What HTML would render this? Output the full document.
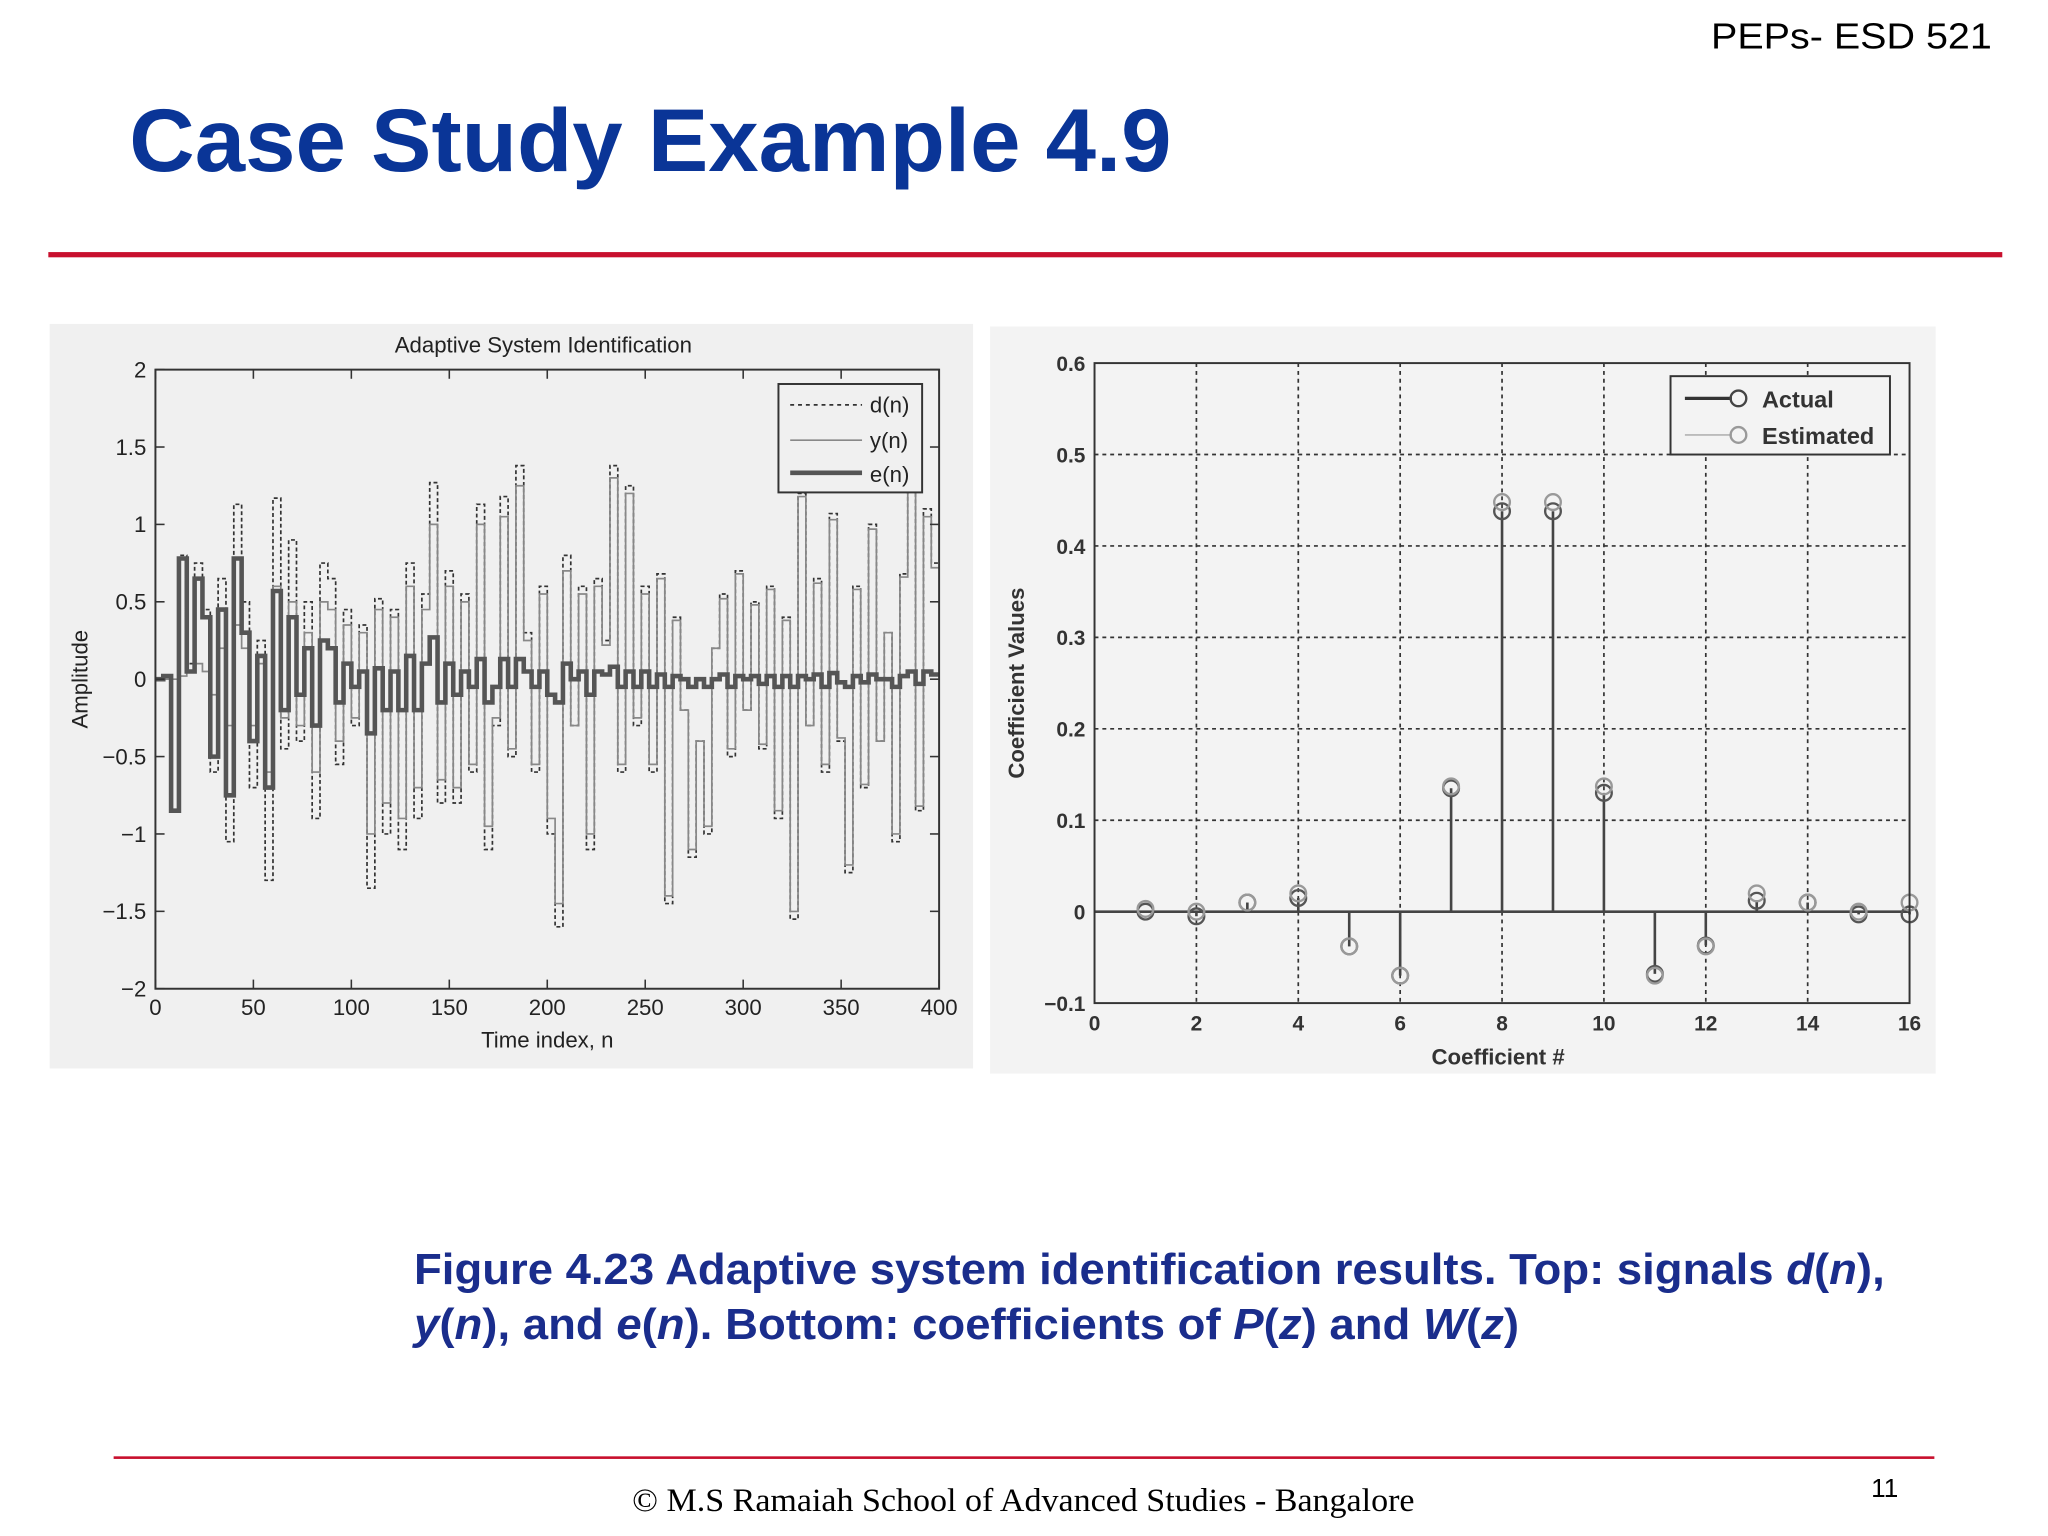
<!DOCTYPE html>
<html><head><meta charset="utf-8"><style>
html,body{margin:0;padding:0;background:#fff;width:2048px;height:1536px;overflow:hidden}
svg{display:block}
text{font-family:"Liberation Sans",sans-serif}
</style></head><body>
<svg id="page" width="2048" height="1536" viewBox="0 0 1568 1176" xmlns="http://www.w3.org/2000/svg">
<rect width="1568" height="1176" fill="#fff"/>
<text x="1525" y="37" font-size="28" text-anchor="end" textLength="215" lengthAdjust="spacingAndGlyphs" fill="#000">PEPs- ESD 521</text>
<text x="99" y="131" font-size="68" font-weight="bold" textLength="798" lengthAdjust="spacingAndGlyphs" fill="#0a3597">Case Study Example 4.9</text>
<rect x="37" y="193" width="1496" height="4" fill="#c8102e"/>

<g id="left">
<rect x="38" y="248" width="707" height="570" fill="#f0f0f0"/>
<text x="416" y="270" font-size="17" text-anchor="middle" fill="#222">Adaptive System Identification</text>
<g id="lgrid"></g>
<g id="lseries"></g>
<rect x="119" y="283" width="600" height="474" fill="none" stroke="#333" stroke-width="1.5"/>
<g id="lticks"></g>
<text x="419" y="802" font-size="17" text-anchor="middle" fill="#222">Time index, n</text>
<text transform="translate(67,520) rotate(-90)" font-size="17" text-anchor="middle" fill="#222">Amplitude</text>
<g>
<rect x="596" y="294" width="110" height="83" fill="#f0f0f0" stroke="#333" stroke-width="1.5"/>
<line x1="605" y1="310" x2="660" y2="310" stroke="#333" stroke-width="1.3" stroke-dasharray="3,3"/>
<text x="666" y="316" font-size="17" fill="#222">d(n)</text>
<line x1="605" y1="337" x2="660" y2="337" stroke="#888" stroke-width="1.3"/>
<text x="666" y="343" font-size="17" fill="#222">y(n)</text>
<line x1="605" y1="362" x2="660" y2="362" stroke="#555" stroke-width="3.5"/>
<text x="666" y="369" font-size="17" fill="#222">e(n)</text>
</g>
</g>

<g id="right">
<rect x="758" y="250" width="724" height="572" fill="#f3f3f3"/>
<g id="rgrid"></g>
<g id="rseries"></g>
<rect x="838" y="278" width="624" height="490" fill="none" stroke="#333" stroke-width="1.5"/>
<g id="rticks"></g>
<text x="1147" y="815" font-size="17" font-weight="bold" text-anchor="middle" fill="#333">Coefficient #</text>
<text transform="translate(784,523) rotate(-90)" font-size="17" font-weight="bold" text-anchor="middle" fill="#333">Coefficient Values</text>
<g>
<rect x="1279" y="288" width="168" height="60" fill="#f3f3f3" stroke="#333" stroke-width="1.5"/>
<line x1="1290" y1="305" x2="1326" y2="305" stroke="#333" stroke-width="2.5"/>
<circle cx="1331" cy="305" r="6" fill="none" stroke="#444" stroke-width="1.8"/>
<text x="1349" y="312" font-size="18" font-weight="bold" fill="#333">Actual</text>
<line x1="1290" y1="333" x2="1326" y2="333" stroke="#bbb" stroke-width="1.5"/>
<circle cx="1331" cy="333" r="6" fill="none" stroke="#999" stroke-width="1.8"/>
<text x="1349" y="340" font-size="18" font-weight="bold" fill="#333">Estimated</text>
</g>
</g>

<text x="317" y="983" font-size="33" font-weight="bold" textLength="1126" lengthAdjust="spacingAndGlyphs" fill="#1a2d8c">Figure 4.23 Adaptive system identification results. Top: signals <tspan font-style="italic">d</tspan>(<tspan font-style="italic">n</tspan>),</text>
<text x="317" y="1025" font-size="33" font-weight="bold" textLength="846" lengthAdjust="spacingAndGlyphs" fill="#1a2d8c"><tspan font-style="italic">y</tspan>(<tspan font-style="italic">n</tspan>), and <tspan font-style="italic">e</tspan>(<tspan font-style="italic">n</tspan>). Bottom: coefficients of <tspan font-style="italic">P</tspan>(<tspan font-style="italic">z</tspan>) and <tspan font-style="italic">W</tspan>(<tspan font-style="italic">z</tspan>)</text>
<rect x="87" y="1115" width="1394" height="2" fill="#c8102e"/>
<text x="484" y="1157" font-size="25" textLength="599" lengthAdjust="spacingAndGlyphs" fill="#000" style="font-family:'Liberation Serif',serif">© M.S Ramaiah School of Advanced Studies - Bangalore</text>
<text x="1443" y="1146" font-size="20" text-anchor="middle" fill="#000">11</text>
</svg>
<script>
const lxTicks=[0,50,100,150,200,250,300,350,400];
const lyTicks=[2,1.5,1,0.5,0,-0.5,-1,-1.5,-2];
const lyLabels=["2","1.5","1","0.5","0","\u22120.5","\u22121","\u22121.5","\u22122"];
const sampleStep=4;
const dSeries=[0,0.02,-0.85,0.8,0.1,0.75,0.45,-0.6,0.65,-1.05,1.13,0.5,-0.7,0.25,-1.3,1.17,-0.45,0.9,-0.4,0.5,
-0.9,0.75,0.65,-0.55,0.45,-0.3,0.35,-1.35,0.52,-1.0,0.45,-1.1,0.75,-0.9,0.55,1.27,-0.8,0.7,-0.8,0.55,
-0.6,1.13,-1.1,-0.3,1.18,-0.5,1.38,0.3,-0.6,0.6,-1.0,-1.6,0.8,-0.3,0.6,-1.1,0.65,0.25,1.38,-0.6,
1.25,-0.3,0.6,-0.6,0.68,-1.45,0.4,-0.2,-1.15,-0.4,-1.0,0.2,0.55,-0.5,0.7,-0.2,0.5,-0.45,0.6,-0.9,
0.4,-1.55,1.2,-0.3,0.65,-0.6,1.07,-0.4,-1.25,0.6,-0.7,1.0,-0.4,0.3,-1.05,0.68,1.3,-0.85,1.1,0.75];
const ySeries=[0,0,0,0.02,0.05,0.1,0.05,-0.1,0.2,-0.3,0.35,0.2,-0.3,0.1,-0.6,0.6,-0.25,0.5,-0.3,0.3,
-0.6,0.5,0.45,-0.4,0.35,-0.25,0.3,-1.0,0.45,-0.8,0.4,-0.9,0.6,-0.7,0.45,1.0,-0.65,0.6,-0.7,0.5,
-0.55,1.0,-0.95,-0.25,1.05,-0.45,1.25,0.25,-0.55,0.55,-0.9,-1.45,0.7,-0.3,0.55,-1.0,0.6,0.22,1.3,-0.55,
1.2,-0.25,0.55,-0.55,0.65,-1.4,0.38,-0.2,-1.1,-0.4,-0.95,0.2,0.52,-0.45,0.68,-0.2,0.48,-0.42,0.58,-0.85,
0.38,-1.5,1.18,-0.3,0.62,-0.55,1.03,-0.38,-1.2,0.58,-0.68,0.97,-0.4,0.3,-1.0,0.66,1.25,-0.82,1.05,0.72];
const eSeries=[0,0.02,-0.85,0.78,0.05,0.65,0.4,-0.5,0.45,-0.75,0.78,0.3,-0.4,0.15,-0.7,0.57,-0.2,0.4,-0.1,0.2,
-0.3,0.25,0.2,-0.15,0.1,-0.05,0.05,-0.35,0.07,-0.2,0.05,-0.2,0.15,-0.2,0.1,0.27,-0.15,0.1,-0.1,0.05,
-0.05,0.13,-0.15,-0.05,0.13,-0.05,0.13,0.05,-0.05,0.05,-0.1,-0.15,0.1,0,0.05,-0.1,0.05,0.03,0.08,-0.05,
0.05,-0.05,0.05,-0.05,0.03,-0.05,0.02,0,-0.05,0,-0.05,0,0.03,-0.05,0.02,0,0.02,-0.03,0.02,-0.05,
0.02,-0.05,0.02,0,0.03,-0.05,0.04,-0.02,-0.05,0.02,-0.02,0.03,0,0,-0.05,0.02,0.05,-0.03,0.05,0.03];

const coefIndex=[1,2,3,4,5,6,7,8,9,10,11,12,13,14,15,16];
const actualCoefs=[0,-0.005,0.01,0.015,-0.038,-0.07,0.135,0.438,0.438,0.13,-0.068,-0.037,0.012,0.01,-0.003,-0.003];
const estimatedCoefs=[0.003,0,0.01,0.02,-0.038,-0.07,0.137,0.448,0.448,0.137,-0.07,-0.038,0.02,0.01,0,0.01];
const rxTicks=[0,2,4,6,8,10,12,14,16];
const ryTicks=[0.6,0.5,0.4,0.3,0.2,0.1,0,-0.1];
const ryLabels=["0.6","0.5","0.4","0.3","0.2","0.1","0","\u22120.1"];

const NS="http://www.w3.org/2000/svg";
function mk(tag,attrs,parent){const el=document.createElementNS(NS,tag);for(const k in attrs)el.setAttribute(k,attrs[k]);parent.appendChild(el);return el;}
const lx=v=>119+(v/400)*600, ly=v=>520-(v/2)*237;
const rx=v=>838+(v/16)*624, ry=v=>698-(v/0.1)*70;

const lt=document.getElementById('lticks');
lxTicks.forEach(t=>{
 mk('line',{x1:lx(t),y1:757,x2:lx(t),y2:750,stroke:'#333','stroke-width':1.2},lt);
 mk('line',{x1:lx(t),y1:283,x2:lx(t),y2:290,stroke:'#333','stroke-width':1.2},lt);
 const tx=mk('text',{x:lx(t),y:777,'font-size':17,'text-anchor':'middle',fill:'#222'},lt);tx.textContent=t;
 
 
});
lyTicks.forEach((t,i)=>{
 mk('line',{x1:119,y1:ly(t),x2:126,y2:ly(t),stroke:'#333','stroke-width':1.2},lt);
 mk('line',{x1:719,y1:ly(t),x2:712,y2:ly(t),stroke:'#333','stroke-width':1.2},lt);
 const tx=mk('text',{x:112,y:ly(t)+6,'font-size':17,'text-anchor':'end',fill:'#222'},lt);tx.textContent=lyLabels[i];
 
 
});
function stairs(arr){let p='';arr.forEach((v,i)=>{const x0=lx(i*sampleStep),x1=lx(Math.min((i+1)*sampleStep,400));p+=(i?'L':'M')+x0.toFixed(1)+','+ly(v).toFixed(1)+'L'+x1.toFixed(1)+','+ly(v).toFixed(1);});return p;}
const ls=document.getElementById('lseries');
const pd=mk('path',{d:stairs(dSeries),fill:'none',stroke:'#333','stroke-width':1.3,'stroke-dasharray':'3,2'},ls);


const py=mk('path',{d:stairs(ySeries),fill:'none',stroke:'#888','stroke-width':1.3},ls);


const pe=mk('path',{d:stairs(eSeries),fill:'none',stroke:'#555','stroke-width':3.5},ls);



const rg=document.getElementById('rgrid');
rxTicks.forEach(t=>{if(t>0&&t<16)mk('line',{x1:rx(t),y1:278,x2:rx(t),y2:768,stroke:'#333','stroke-width':1.3,'stroke-dasharray':'3,3'},rg);});
ryTicks.forEach(t=>{if(t<0.6&&t>-0.1)mk('line',{x1:838,y1:ry(t),x2:1462,y2:ry(t),stroke:'#333','stroke-width':1.3,'stroke-dasharray':'3,3'},rg);});
const rt=document.getElementById('rticks');
rxTicks.forEach(t=>{
 const tx=mk('text',{x:rx(t),y:789,'font-size':16,'font-weight':'bold','text-anchor':'middle',fill:'#333'},rt);tx.textContent=t;
 
 
});
ryTicks.forEach((t,i)=>{
 const tx=mk('text',{x:831,y:ry(t)+6,'font-size':16,'font-weight':'bold','text-anchor':'end',fill:'#333'},rt);tx.textContent=ryLabels[i];
 
 
});
const rs=document.getElementById('rseries');
mk('line',{x1:838,y1:ry(0),x2:1462,y2:ry(0),stroke:'#444','stroke-width':2},rs);
coefIndex.forEach((k,i)=>{
 const s=mk('line',{x1:rx(k),y1:ry(0),x2:rx(k),y2:ry(actualCoefs[i]),stroke:'#444','stroke-width':2},rs);
 
 
 const c=mk('circle',{cx:rx(k),cy:ry(actualCoefs[i]),r:6,fill:'none',stroke:'#555','stroke-width':1.8},rs);
 
 
 const e=mk('circle',{cx:rx(k),cy:ry(estimatedCoefs[i]),r:6,fill:'none',stroke:'#999','stroke-width':1.8},rs);
 
 
});
</script>
</body></html>
